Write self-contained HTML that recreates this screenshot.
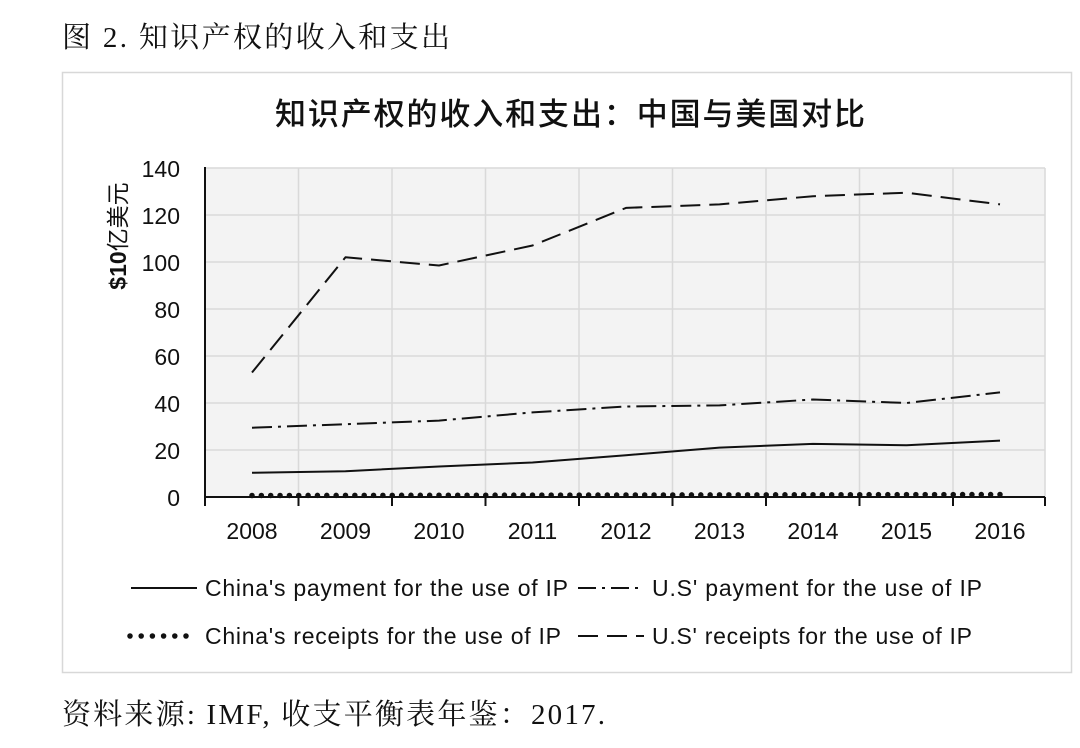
<!DOCTYPE html>
<html><head><meta charset="utf-8"><style>
body{margin:0;background:#fff;}
svg{display:block}
text{font-family:"Liberation Sans","Noto Sans CJK SC",sans-serif;fill:#111}
</style></head><body>
<svg width="1080" height="748" viewBox="0 0 1080 748">
<text x="62" y="47" font-size="29" textLength="388" style="font-family:'Liberation Serif','Noto Serif CJK SC',serif">图 2. 知识产权的收入和支出</text>
<rect x="62.5" y="72.5" width="1009" height="600" fill="#fff" stroke="#d8d8d8" stroke-width="1.5"/>
<text x="275" y="125" font-size="31" font-weight="500" textLength="590" style="font-family:'Noto Sans CJK SC',sans-serif">知识产权的收入和支出：中国与美国对比</text>
<rect x="205" y="168" width="840" height="329" fill="#f3f3f3"/>
<g stroke="#d9d9d9" stroke-width="1.5">
<line x1="205" y1="168" x2="1045" y2="168"/><line x1="205" y1="215" x2="1045" y2="215"/><line x1="205" y1="262" x2="1045" y2="262"/><line x1="205" y1="309" x2="1045" y2="309"/><line x1="205" y1="356" x2="1045" y2="356"/><line x1="205" y1="403" x2="1045" y2="403"/><line x1="205" y1="450" x2="1045" y2="450"/>
<line x1="298.5" y1="168" x2="298.5" y2="497"/><line x1="392" y1="168" x2="392" y2="497"/><line x1="485.5" y1="168" x2="485.5" y2="497"/><line x1="579" y1="168" x2="579" y2="497"/><line x1="672.5" y1="168" x2="672.5" y2="497"/><line x1="766" y1="168" x2="766" y2="497"/><line x1="859.5" y1="168" x2="859.5" y2="497"/><line x1="953" y1="168" x2="953" y2="497"/><line x1="1045" y1="168" x2="1045" y2="497"/>
</g>
<g stroke="#111" stroke-width="2">
<line x1="205" y1="167" x2="205" y2="506"/><line x1="205" y1="497" x2="1045" y2="497"/>
<line x1="298.5" y1="497" x2="298.5" y2="506"/><line x1="392" y1="497" x2="392" y2="506"/><line x1="485.5" y1="497" x2="485.5" y2="506"/><line x1="579" y1="497" x2="579" y2="506"/><line x1="672.5" y1="497" x2="672.5" y2="506"/><line x1="766" y1="497" x2="766" y2="506"/><line x1="859.5" y1="497" x2="859.5" y2="506"/><line x1="953" y1="497" x2="953" y2="506"/><line x1="1045" y1="497" x2="1045" y2="506"/>
</g>
<g font-size="23" text-anchor="end">
<text x="180" y="177">140</text><text x="180" y="224">120</text><text x="180" y="271">100</text><text x="180" y="318">80</text><text x="180" y="365">60</text><text x="180" y="412">40</text><text x="180" y="459">20</text><text x="180" y="506">0</text>
</g>
<g font-size="23" text-anchor="middle">
<text x="252" y="539">2008</text><text x="345.5" y="539">2009</text><text x="439" y="539">2010</text><text x="532.5" y="539">2011</text><text x="626" y="539">2012</text><text x="719.5" y="539">2013</text><text x="813" y="539">2014</text><text x="906.5" y="539">2015</text><text x="1000" y="539">2016</text>
</g>
<text transform="translate(126,236) rotate(-90)" font-size="23" font-weight="bold" text-anchor="middle">$10<tspan font-weight="normal">亿美元</tspan></text>
<g fill="none" stroke="#111" stroke-width="2" stroke-linejoin="round">
<polyline points="252,372.5 345.5,257.3 439,265.5 532.5,245.5 626,207.9 719.5,204.4 813,196.2 906.5,192.7 1000,204.4" stroke-dasharray="20,9"/>
<polyline points="252,427.7 345.5,424.2 439,420.6 532.5,412.4 626,406.5 719.5,405.4 813,399.5 906.5,403 1000,392.4" stroke-dasharray="20,6,3,6"/>
<polyline points="252,472.8 345.5,471.2 439,466.5 532.5,462.5 626,455.2 719.5,447.6 813,443.9 906.5,445.3 1000,440.6"/>
<polyline points="252,495.5 1000,494.5" stroke-width="5.5" stroke-linecap="round" stroke-dasharray="0,9.35"/>
</g>
<line x1="131" y1="588" x2="197" y2="588" stroke="#111" stroke-width="2"/>
<text x="205" y="596" font-size="23" textLength="363">China's payment for the use of IP</text>
<line x1="578" y1="588" x2="644" y2="588" stroke="#111" stroke-width="2" stroke-dasharray="18,6,3,6"/>
<text x="652" y="596" font-size="23" textLength="330">U.S' payment for the use of IP</text>
<line x1="130" y1="636" x2="186" y2="636" stroke="#111" stroke-width="5.5" stroke-linecap="round" stroke-dasharray="0,11.2"/>
<text x="205" y="644" font-size="23" textLength="356">China's receipts for the use of IP</text>
<line x1="578" y1="636" x2="644" y2="636" stroke="#111" stroke-width="2" stroke-dasharray="20,9"/>
<text x="652" y="644" font-size="23" textLength="320">U.S' receipts for the use of IP</text>
<text x="62" y="724" font-size="29" textLength="543" style="font-family:'Liberation Serif','Noto Serif CJK SC',serif">资料来源: IMF, 收支平衡表年鉴：2017.</text>
</svg>
</body></html>
